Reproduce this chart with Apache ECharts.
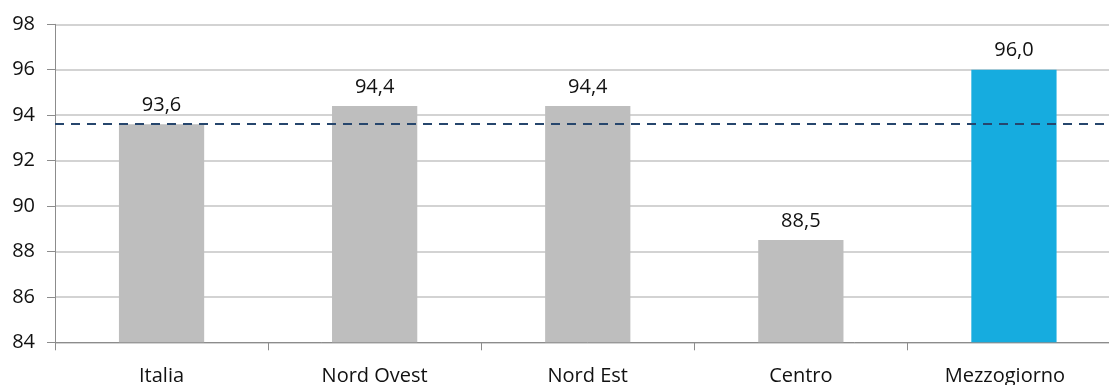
<!DOCTYPE html>
<html>
<head>
<meta charset="utf-8">
<script src="https://cdn.jsdelivr.net/npm/echarts@6/dist/echarts.min.js"></script>
<style>
  html, body { margin: 0; padding: 0; background: #ffffff; overflow: hidden; width: 1109px; height: 385px; }
  /* the plot runs a little past the right edge of the page, so the canvas is wider and clipped */
  #chart { width: 1125px; height: 385px; }
</style>
</head>
<body>
<div id="chart"></div>
<script>
// Regions and their values
const regions = ['Italia', 'Nord Ovest', 'Nord Est', 'Centro', 'Mezzogiorno'];
const values = [93.6, 94.4, 94.4, 88.5, 96.0];
// Colour of each bar: the South highlighted, the rest grey
const barColors = ['#bebebe', '#bebebe', '#bebebe', '#bebebe', '#16acdf'];
// National reference level drawn as a dashed line
const referenceLevel = 93.6;
// Value axis range
const yMin = 84;
const yMax = 98;
const yStep = 2;

const fmt = v => v.toFixed(1).replace('.', ',');
const font = '"Open Sans", "Noto Sans", sans-serif';

const chart = echarts.init(document.getElementById('chart'), null, { renderer: 'canvas' });
chart.setOption({
  animation: false,
  backgroundColor: '#ffffff',
  grid: { left: 55, right: 4.5, top: 24.3, bottom: 42.7, containLabel: false, outerBoundsMode: 'none' },
  xAxis: {
    type: 'category',
    data: regions,
    boundaryGap: true,
    axisLine: { show: true, lineStyle: { color: '#8c8c8c', width: 1 } },
    axisTick: { show: true, interval: 0, length: 8, lineStyle: { color: '#8c8c8c' } },
    axisLabel: {
      interval: 0,
      hideOverlap: false,
      color: '#111',
      fontFamily: font,
      fontSize: 20,
      margin: 24,
      // keep the last label clear of the right edge
      formatter: (v, i) => i === regions.length - 1 ? '{edge|' + v + '}' : v,
      rich: { edge: { color: '#111', fontFamily: font, fontSize: 20, padding: [0, 18, 0, 0] } }
    },
    splitLine: { show: false }
  },
  yAxis: {
    type: 'value',
    min: yMin,
    max: yMax,
    interval: yStep,
    axisLine: { show: true, lineStyle: { color: '#8c8c8c', width: 1 } },
    axisTick: { show: true, length: 8, lineStyle: { color: '#8c8c8c' } },
    axisLabel: { color: '#111', fontFamily: font, fontSize: 20, margin: 20 },
    splitLine: { show: true, lineStyle: { color: '#c4c4c4', width: 1.5 } }
  },
  series: [{
    type: 'bar',
    barWidth: '40%',
    data: values.map((v, i) => ({ value: v, itemStyle: { color: barColors[i] } })),
    label: {
      show: true,
      position: 'top',
      distance: 9,
      color: '#111',
      fontFamily: font,
      fontSize: 20,
      formatter: p => fmt(p.value)
    },
    markLine: {
      silent: true,
      symbol: ['none', 'none'],
      label: { show: false },
      lineStyle: { color: '#26466d', type: [9, 7], width: 2 },
      data: [{ yAxis: referenceLevel }]
    }
  }]
});
</script>
</body>
</html>
